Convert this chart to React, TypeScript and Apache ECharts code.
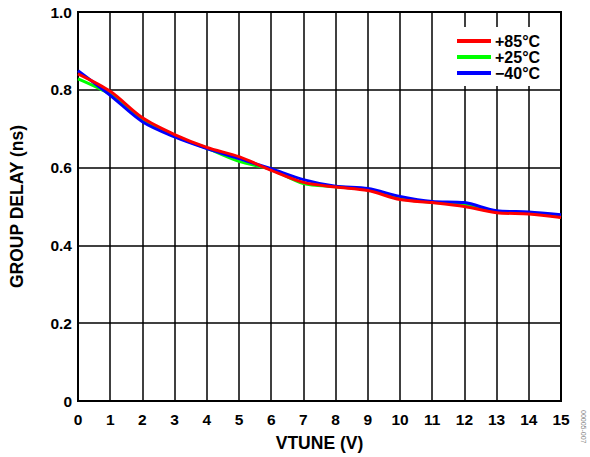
import React, { useEffect, useRef } from "react";
import * as echarts from "echarts";

const vtune = [0, 1, 2, 3, 4, 5, 6, 7, 8, 9, 10, 11, 12, 13, 14, 15];
const delay85 = [0.841, 0.796, 0.728, 0.685, 0.652, 0.628, 0.593, 0.562, 0.550, 0.541, 0.518, 0.510, 0.500, 0.484, 0.481, 0.472];
const delay25 = [0.828, 0.788, 0.723, 0.681, 0.650, 0.616, 0.595, 0.559, 0.551, 0.543, 0.520, 0.511, 0.505, 0.487, 0.484, 0.473];
const delayM40 = [0.849, 0.786, 0.718, 0.679, 0.649, 0.623, 0.597, 0.569, 0.552, 0.546, 0.526, 0.513, 0.510, 0.489, 0.486, 0.479];
const seriesNames = ["+85°C", "+25°C", "\u221240°C"];
const seriesColors = ["#ff0000", "#00ff00", "#0000ff"];
const yTicks = [0, 0.2, 0.4, 0.6, 0.8, 1.0];

export default function App() {
  const ref = useRef<HTMLDivElement>(null);
  useEffect(() => {
    if (!ref.current) return;
    const chart = echarts.init(ref.current, undefined, { renderer: "svg" });
    const datasets = [delay85, delay25, delayM40];
    const font = "Liberation Sans, Arial, sans-serif";
    chart.setOption({
      animation: false,
      backgroundColor: "#ffffff",
      grid: { left: 78, right: 29, top: 12, bottom: 55, show: true, borderColor: "#000", borderWidth: 2 },
      legend: {
        data: seriesNames,
        orient: "vertical",
        left: 452,
        top: 27,
        backgroundColor: "#ffffff",
        padding: [6, 6, 5, 5],
        itemGap: 0,
        itemWidth: 34,
        itemHeight: 4,
        icon: "rect",
        textStyle: { fontFamily: font, fontWeight: "bold", fontSize: 16, color: "#000", lineHeight: 15.5, padding: [0, 0, 0, -1] },
      },
      xAxis: {
        type: "value",
        min: 0,
        max: 15,
        interval: 1,
        name: "VTUNE (V)",
        nameLocation: "middle",
        nameGap: 33,
        nameTextStyle: { fontFamily: font, fontWeight: "bold", fontSize: 17.5, color: "#000" },
        axisLine: { show: true, lineStyle: { color: "#000", width: 2 } },
        axisTick: { show: false },
        axisLabel: { fontFamily: font, fontWeight: "bold", fontSize: 15.5, color: "#000", margin: 10 },
        splitLine: { show: true, lineStyle: { color: "#000", width: 1.5 } },
      },
      yAxis: {
        type: "value",
        min: 0,
        max: 1,
        interval: 0.2,
        name: "GROUP DELAY (ns)",
        nameLocation: "middle",
        nameGap: 52,
        nameTextStyle: { fontFamily: font, fontWeight: "bold", fontSize: 17.5, color: "#000" },
        axisLine: { show: true, lineStyle: { color: "#000", width: 2 } },
        axisTick: { show: false },
        axisLabel: {
          fontFamily: font,
          fontWeight: "bold",
          fontSize: 15.5,
          color: "#000",
          margin: 6,
          formatter: (v: number) => {
            const t = yTicks.find((k) => Math.abs(k - v) < 1e-6);
            if (t === undefined) return "";
            return t === 0 ? "0" : t.toFixed(1);
          },
        },
        splitLine: { show: true, lineStyle: { color: "#000", width: 1.5 } },
      },
      series: datasets.map((d, i) => ({
        name: seriesNames[i],
        type: "line",
        data: vtune.map((x, j) => [x, d[j]]),
        smooth: 0.3,
        showSymbol: false,
        symbol: "none",
        lineStyle: { color: seriesColors[i], width: 3 },
        itemStyle: { color: seriesColors[i] },
        z: i === 0 ? 4 : i === 1 ? 2 : 3,
      })),
      graphic: [
        {
          type: "text",
          left: 580,
          top: 410,
          rotation: -Math.PI / 2,
          style: { text: "00005-007", fontFamily: font, fontSize: 7, fill: "#888" },
        },
      ],
    });
    return () => chart.dispose();
  }, []);
  return <div ref={ref} style={{ width: 590, height: 457, position: "absolute", left: 0, top: 0 }} />;
}
